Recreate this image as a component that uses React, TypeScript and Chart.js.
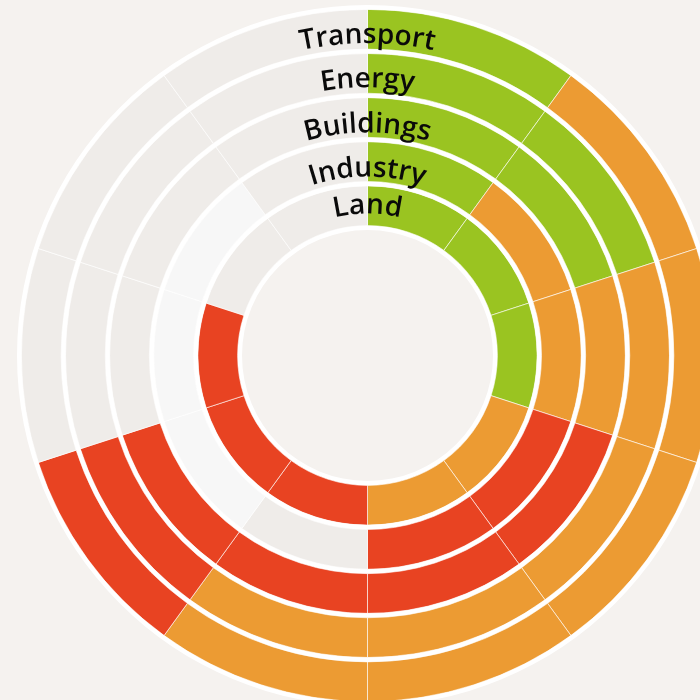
import { useEffect, useRef } from "react";
import { Chart, registerables } from "chart.js";

Chart.register(...registerables);

// Ring names, outermost first
const sectors = ["Transport", "Energy", "Buildings", "Industry", "Land"];

// Ten equal segments per ring, clockwise from the top
const segmentLabels = ["1", "2", "3", "4", "5", "6", "7", "8", "9", "10"];
const segmentShares = [1, 1, 1, 1, 1, 1, 1, 1, 1, 1];

// Status of each segment per ring
const transportStatus = ["good", "medium", "medium", "medium", "medium", "medium", "bad", "none", "none", "none"];
const energyStatus = ["good", "good", "medium", "medium", "medium", "medium", "bad", "none", "none", "none"];
const buildingsStatus = ["good", "good", "medium", "bad", "bad", "bad", "bad", "none", "none", "none"];
const industryStatus = ["good", "medium", "medium", "bad", "bad", "none", "faint", "faint", "faint", "none"];
const landStatus = ["good", "good", "good", "medium", "medium", "bad", "bad", "bad", "none", "none"];

const statusByRing = [transportStatus, energyStatus, buildingsStatus, industryStatus, landStatus];

const statusColors: Record<string, string> = {
  good: "#9AC421",
  medium: "#EC9B33",
  bad: "#E84322",
  none: "#EFECE9",
  faint: "#F7F7F7",
};

const BG = "#F5F2EF";
const OUTER_R = 350.5;
const HOLE_R = 125.5;
const GAP_W = 4.4;
const RING_W = 39.8;
// baseline of each label above the inner edge of its ring
const labelBaselineOffsets = [6, 6, 5, 5, 12];

export default function App() {
  const ref = useRef<HTMLCanvasElement | null>(null);

  useEffect(() => {
    if (!ref.current) return;
    const spacer = () => ({
      data: [1],
      backgroundColor: ["#FFFFFF"],
      borderWidth: 0,
      weight: GAP_W,
      hoverOffset: 0,
    });
    const datasets: any[] = [];
    const ringDatasetIndex: number[] = [];
    datasets.push(spacer());
    statusByRing.forEach((statuses, i) => {
      ringDatasetIndex.push(datasets.length);
      datasets.push({
        label: sectors[i],
        data: segmentShares,
        backgroundColor: statuses.map((s) => statusColors[s]),
        borderColor: "rgba(255,255,255,0.6)",
        borderWidth: 1,
        weight: RING_W,
        hoverOffset: 0,
      });
      datasets.push(spacer());
    });

    const curvedLabels = {
      id: "curvedLabels",
      afterDatasetsDraw(chart: any) {
        const ctx = chart.ctx as CanvasRenderingContext2D;
        ctx.save();
        ctx.font = '600 28px "Open Sans"';
        ctx.fillStyle = "#0A0A0A";
        ctx.textAlign = "center";
        ctx.textBaseline = "alphabetic";
        sectors.forEach((name, i) => {
          const meta = chart.getDatasetMeta(ringDatasetIndex[i]);
          const arc = meta.data[0] as any;
          const cx = arc.x;
          const cy = arc.y;
          const r = arc.innerRadius + labelBaselineOffsets[i];
          const chars = Array.from(name);
          const widths = chars.map((c) => ctx.measureText(c).width);
          const total = widths.reduce((a, b) => a + b, 0);
          let acc = -total / 2;
          chars.forEach((c, k) => {
            const a = (acc + widths[k] / 2) / r;
            ctx.save();
            ctx.translate(cx, cy);
            ctx.rotate(a);
            ctx.fillText(c, 0, -r);
            ctx.restore();
            acc += widths[k];
          });
        });
        ctx.restore();
      },
    };

    const chart = new Chart(ref.current, {
      type: "doughnut",
      data: { labels: segmentLabels, datasets },
      options: {
        responsive: false,
        animation: false,
        radius: OUTER_R,
        cutout: (HOLE_R / OUTER_R) * 100 + "%",
        layout: { padding: 0 },
        plugins: { legend: { display: false }, tooltip: { enabled: false } },
        events: [],
      } as any,
      plugins: [curvedLabels],
    });
    return () => chart.destroy();
  }, []);

  return (
    <div
      style={{
        position: "fixed",
        left: 0,
        top: 0,
        width: 700,
        height: 700,
        overflow: "hidden",
        background: BG,
      }}
    >
      <canvas
        ref={ref}
        width={701}
        height={701}
        style={{ position: "absolute", left: 17, top: 5, width: 701, height: 701 }}
      />
    </div>
  );
}
